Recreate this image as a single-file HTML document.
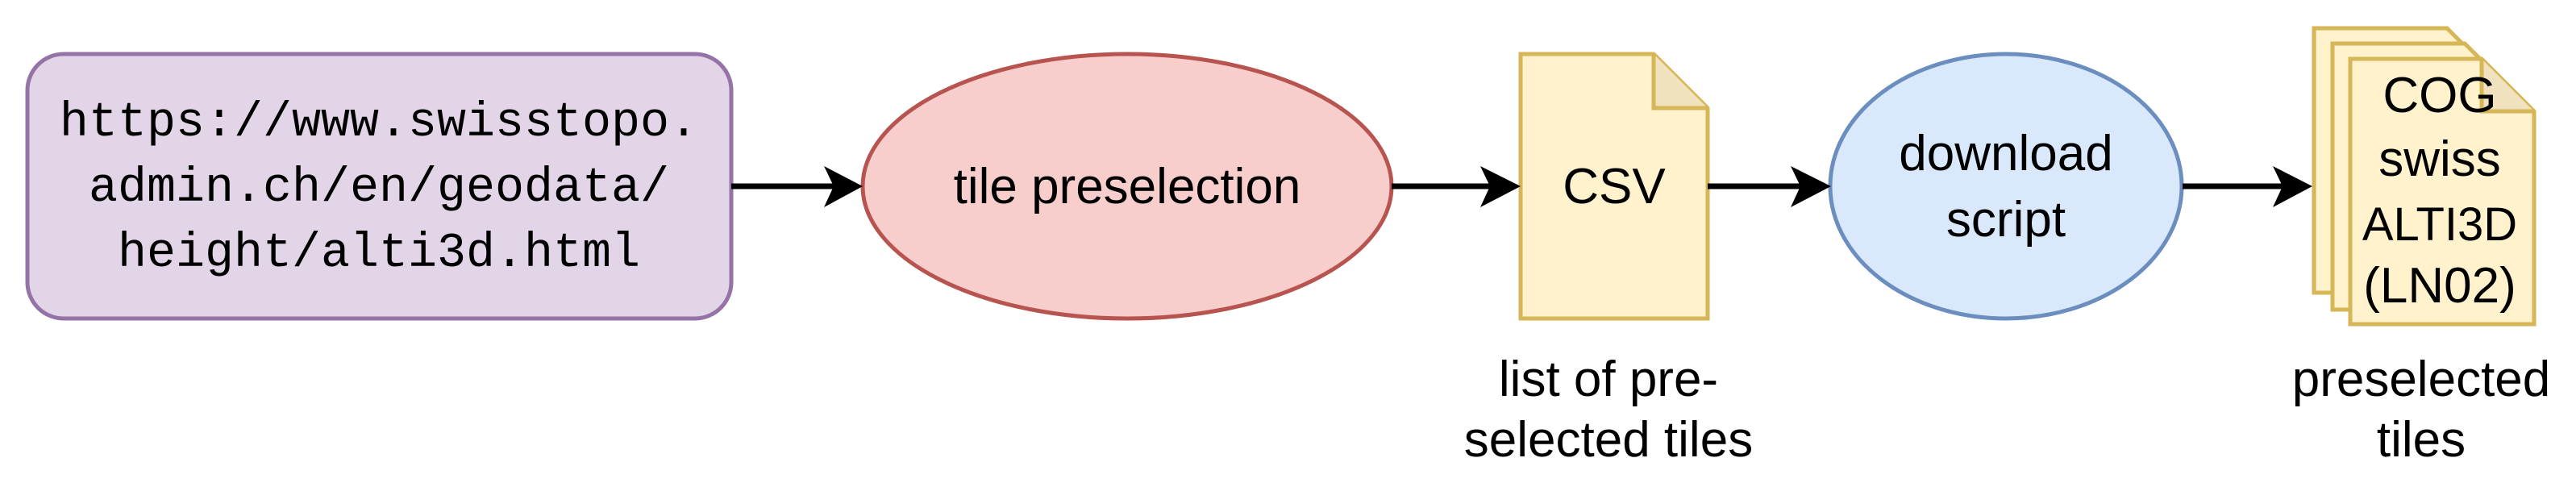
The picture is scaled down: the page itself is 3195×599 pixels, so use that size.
<!DOCTYPE html>
<html><head><meta charset="utf-8"><style>html,body{margin:0;padding:0;background:#fff}svg{display:block}</style></head>
<body>
<svg width="3195" height="599" viewBox="0 0 3195 599" xmlns="http://www.w3.org/2000/svg">
<g stroke-width="5">
<rect x="34" y="67" width="873" height="328" rx="45" fill="#e1d5e7" stroke="#9673a6"/>
<ellipse cx="1398" cy="231" rx="328" ry="164" fill="#f8cecc" stroke="#b85450"/>
<path d="M1886 67 H2051 L2118 134 V395 H1886 Z" fill="#fff2cc" stroke="#d6b656"/>
<path d="M2051 67 V134 H2118" fill="#f0e2bf" stroke="#d6b656"/>
<ellipse cx="2488" cy="231" rx="218" ry="164" fill="#dae8fc" stroke="#6c8ebf"/>
<path d="M2870 35 H3035 L3098 98 V363 H2870 Z" fill="#fff2cc" stroke="#d6b656"/>
<path d="M2893 54 H3057 L3120 117 V384 H2893 Z" fill="#fff2cc" stroke="#d6b656"/>
<path d="M2915 73 H3078 L3143 138 V402 H2915 Z" fill="#fff2cc" stroke="#d6b656"/>
<path d="M3078 73 V138 H3143" fill="#f0e2bf" stroke="#d6b656"/>
</g>
<g stroke="#000" stroke-width="7">
<line x1="907" y1="231" x2="1035" y2="231"/>
<line x1="1726" y1="231" x2="1850" y2="231"/>
<line x1="2118" y1="231" x2="2235" y2="231"/>
<line x1="2707" y1="231" x2="2832" y2="231"/>
</g>
<g fill="#000">
<path d="M1070 231 L1022 206 L1034 231 L1022 257 Z"/>
<path d="M1886 231 L1836 206 L1848 231 L1836 257 Z"/>
<path d="M2271 231 L2221 206 L2233 231 L2221 257 Z"/>
<path d="M2868 231 L2819 206 L2831 231 L2819 257 Z"/>
</g>
<g font-family="'Liberation Mono', monospace" font-size="60" text-anchor="middle" fill="#000">
<text x="470" y="168">https://www.swisstopo.</text>
<text x="470" y="249">admin.ch/en/geodata/</text>
<text x="470" y="330">height/alti3d.html</text>
</g>
<g font-family="'Liberation Sans', Arial, sans-serif" font-size="62" text-anchor="middle" fill="#000">
<text x="1398" y="252">tile preselection</text>
<text x="2002" y="252">CSV</text>
<text x="2488" y="211">download</text>
<text x="2488" y="293">script</text>
<text x="3026" y="139">COG</text>
<text x="3026" y="218">swiss</text>
<text x="3026" y="298" font-size="58">ALTI3D</text>
<text x="3026" y="375">(LN02)</text>
<text x="1995" y="491">list of pre-</text>
<text x="1995" y="566">selected tiles</text>
<text x="3003" y="491">preselected</text>
<text x="3003" y="566">tiles</text>
</g>
</svg>
</body></html>
